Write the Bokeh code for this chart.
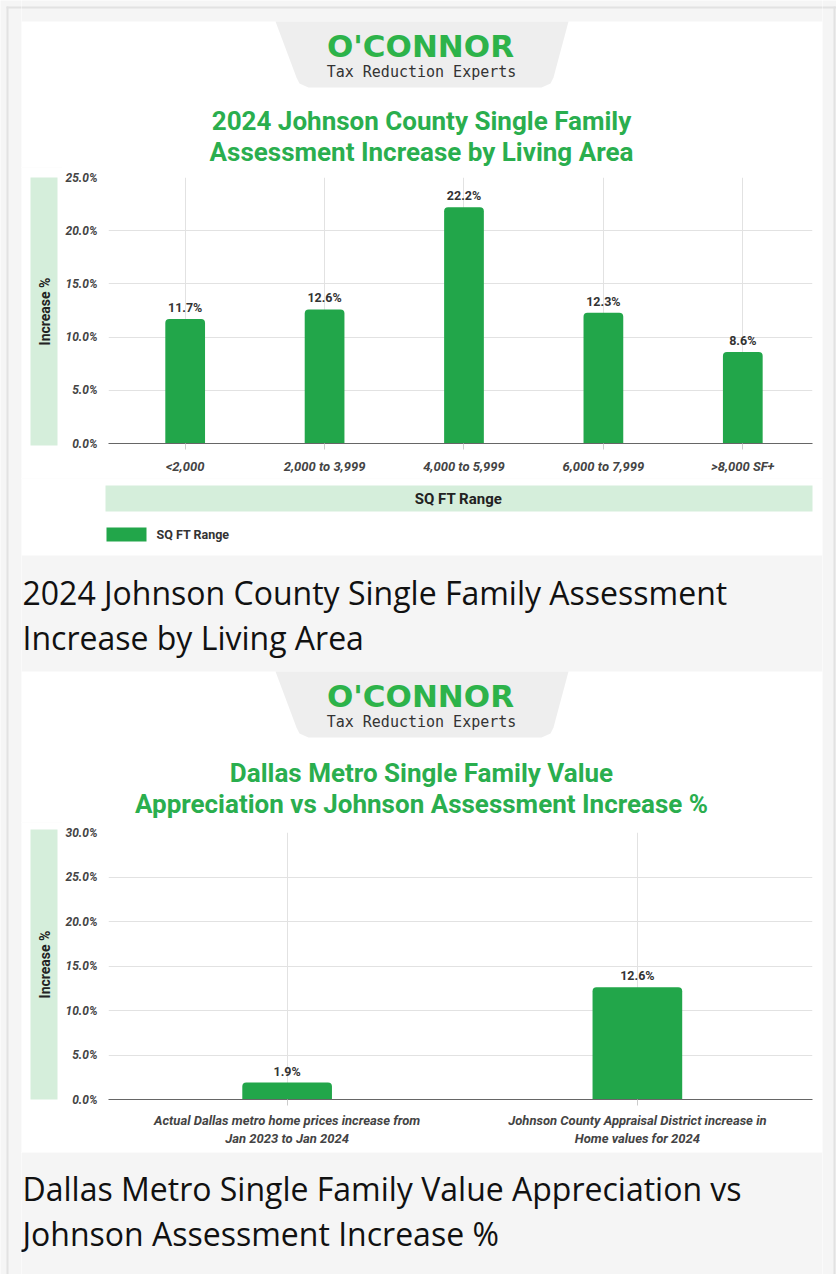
from math import pi
from bokeh.plotting import figure
from bokeh.layouts import row, column
from bokeh.models import Range1d, FixedTicker, PrintfTickFormatter, ColumnDataSource
from bokeh.core.properties import value
from bokeh.embed import file_html
from bokeh.resources import INLINE

# ---------------- data ----------------
sqft_ranges = ["<2,000", "2,000 to 3,999", "4,000 to 5,999", "6,000 to 7,999", ">8,000 SF+"]
sqft_increase = [11.7, 12.6, 22.2, 12.3, 8.6]

compare_labels = ["Actual Dallas metro home prices increase from\nJan 2023 to Jan 2024",
                  "Johnson County Appraisal District increase in\nHome values for 2024"]
compare_values = [1.9, 12.6]

y_ticks1 = [0, 5, 10, 15, 20, 25]
y_ticks2 = [0, 5, 10, 15, 20, 25, 30]

chart1_title = ["2024 Johnson County Single Family", "Assessment Increase by Living Area"]
chart2_title = ["Dallas Metro Single Family Value", "Appreciation vs Johnson Assessment Increase %"]
caption1 = ["2024 Johnson County Single Family Assessment", "Increase by Living Area"]
caption2 = ["Dallas Metro Single Family Value Appreciation vs", "Johnson Assessment Increase %"]
y_axis_title = "Increase %"
x_axis_title1 = "SQ FT Range"
legend_label1 = "SQ FT Range"
brand = "O'CONNOR"
tagline = "Tax Reduction Experts"

# ---------------- styles ----------------
PAGE_BG = "#f5f5f5"
BORDER = "#e2e2e2"
LOGO_BG = "#eeeeee"
TITLE_GREEN = "#2aae4e"
BAR = "#22a64a"
BAND = "#d5eedb"
GRID = "#e2e2e2"
PANELS = [(21, 555), (671, 1152)]
PX0, PX1 = 21, 822


def deco(x0, x1, y0, y1):
    p = figure(width=x1 - x0, height=y1 - y0,
               x_range=Range1d(x0, x1), y_range=Range1d(y1, y0),
               x_axis_type=None, y_axis_type=None, title_location=None,
               toolbar_location=None, output_backend="svg",
               min_border=0, min_border_left=0, min_border_right=0,
               min_border_top=0, min_border_bottom=0,
               outline_line_color=None,
               background_fill_color=PAGE_BG, border_fill_color=PAGE_BG)
    p.grid.visible = False
    for a, b in PANELS:
        p.quad(left=[PX0], right=[PX1], top=[a], bottom=[b],
               fill_color="white", line_color=None)
    p.quad(left=[6], right=[8], top=[6], bottom=[1274], fill_color=BORDER, line_color=None)
    p.quad(left=[6], right=[836], top=[6], bottom=[8], fill_color=BORDER, line_color=None)
    p.quad(left=[833], right=[835], top=[6], bottom=[1274], fill_color=BORDER, line_color=None)
    return p


def logo(p, t):
    xs = [275, 296, 299, 308, 541, 550, 553, 568]
    ys = [t, t + 56, t + 62, t + 66, t + 66, t + 62, t + 56, t]
    p.patch(x=xs, y=ys, fill_color=LOGO_BG, line_color=None)
    p.text(x=[420], y=[t + 24], text=[brand], text_font=value("DejaVu Sans"),
           text_font_style="bold", text_font_size="31px", text_color="#2db34a",
           text_align="center", text_baseline="middle")
    p.text(x=[421], y=[t + 50], text=[tagline], text_font=value("DejaVu Sans Mono"),
           text_font_size="15px", text_color="#333333",
           text_align="center", text_baseline="middle")


def title(p, lines, y_first, gap):
    for i, line in enumerate(lines):
        p.text(x=[421], y=[y_first + i * gap], text=[line], text_font=value("Roboto"),
               text_font_style="bold", text_font_size="26px", text_color=TITLE_GREEN,
               text_align="center", text_baseline="middle")


def caption(p, lines, y_first, gap):
    for i, line in enumerate(lines):
        p.text(x=[22], y=[y_first + i * gap], text=[line], text_font=value("Open Sans"),
               text_font_size="32px", text_color="#111111",
               text_align="left", text_baseline="alphabetic")


def band_side(y0, y1, band_top, band_bottom):
    p = deco(21, 62, y0, y1)
    p.quad(left=[30], right=[57], top=[band_top], bottom=[band_bottom],
           fill_color=BAND, line_color=None)
    p.text(x=[44], y=[(band_top + band_bottom) / 2], text=[y_axis_title], angle=pi / 2,
           text_font=value("Roboto"), text_font_style="bold", text_font_size="14px",
           text_color="#222222", text_align="center", text_baseline="middle")
    return p


def chart(height, bottom, cats, vals, xr, ymax, yticks, bar_w, xlab_size, standoff):
    xs = list(range(len(cats)))
    p = figure(width=760, height=height, x_range=Range1d(*xr), y_range=Range1d(0, ymax),
               title_location=None, toolbar_location=None, output_backend="svg",
               min_border=0, min_border_left=43, min_border_right=10,
               min_border_top=10, min_border_bottom=bottom,
               outline_line_color=None,
               background_fill_color="white", border_fill_color="white")
    src = ColumnDataSource(dict(x=xs, val=vals, lab=[f"{v:.1f}%" for v in vals]))
    r = p.vbar(x="x", top="val", width=bar_w, source=src, fill_color=BAR, line_color=None)
    if "border_radius" in r.glyph.properties():
        r.glyph.border_radius = (4, 4, 0, 0)
    p.text(x="x", y="val", text="lab", source=src, y_offset=-4,
           text_font=value("Roboto"), text_font_style="bold", text_font_size="12.5px",
           text_color="#333333", text_align="center", text_baseline="bottom")

    xa = p.xaxis[0]
    xa.ticker = FixedTicker(ticks=xs)
    xa.major_label_overrides = {i: c for i, c in enumerate(cats)}
    xa.axis_line_color = "#666666"
    xa.axis_line_width = 1.2
    xa.major_tick_line_color = "#cccccc"
    xa.major_tick_out = 6
    xa.major_tick_in = 0
    xa.minor_tick_line_color = None
    xa.major_label_standoff = standoff
    xa.major_label_text_font = "Roboto"
    xa.major_label_text_font_style = "bold italic"
    xa.major_label_text_font_size = xlab_size
    xa.major_label_text_color = "#444444"

    ya = p.yaxis[0]
    ya.ticker = FixedTicker(ticks=yticks)
    ya.formatter = PrintfTickFormatter(format="%.1f%%")
    ya.axis_line_color = None
    ya.major_tick_line_color = None
    ya.minor_tick_line_color = None
    ya.major_label_standoff = 5
    ya.major_label_text_font = "Roboto"
    ya.major_label_text_font_style = "bold italic"
    ya.major_label_text_font_size = "12px"
    ya.major_label_text_color = "#444444"

    p.xgrid.grid_line_color = GRID
    p.ygrid.grid_line_color = GRID
    return p


# ---------------- page pieces (centre column spans page x 21..822) ----------------
d1 = deco(21, 822, 0, 167)
logo(d1, 21)
title(d1, chart1_title, 120, 31)

c1 = chart(311, 35, sqft_ranges, sqft_increase, (-0.55, 4.5), 25, y_ticks1, 0.285, "13px", 9)
row1 = row(column(band_side(167, 478, 177, 445)), column(c1))

d2 = deco(21, 822, 478, 822)
d2.quad(left=[105], right=[812], top=[485], bottom=[511], fill_color=BAND, line_color=None)
d2.text(x=[458], y=[498], text=[x_axis_title1], text_font=value("Roboto"),
        text_font_style="bold", text_font_size="15px", text_color="#222222",
        text_align="center", text_baseline="middle")
d2.quad(left=[106], right=[146], top=[527], bottom=[541], fill_color=BAR, line_color=None)
d2.text(x=[156], y=[534], text=[legend_label1], text_font=value("Roboto"),
        text_font_style="bold", text_font_size="12.5px", text_color="#333333",
        text_align="left", text_baseline="middle")
caption(d2, caption1, 592, 45)
logo(d2, 671)
title(d2, chart2_title, 772, 31)

c2 = chart(330, 53, compare_labels, compare_values, (-0.51, 1.5), 30, y_ticks2, 0.256, "13px", 7)
row2 = row(column(band_side(822, 1152, 829, 1099)), column(c2))

d3 = deco(21, 822, 1152, 1274)
caption(d3, caption2, 1188, 45)

centre = column(d1, row1, d2, row2, d3, spacing=0)
left_pad = deco(0, 21, 0, 1274)
right_pad = deco(822, 836, 0, 1274)

page = row(column(left_pad), centre, column(right_pad), spacing=0)

open("out.html", "w").write(file_html(page, INLINE))
